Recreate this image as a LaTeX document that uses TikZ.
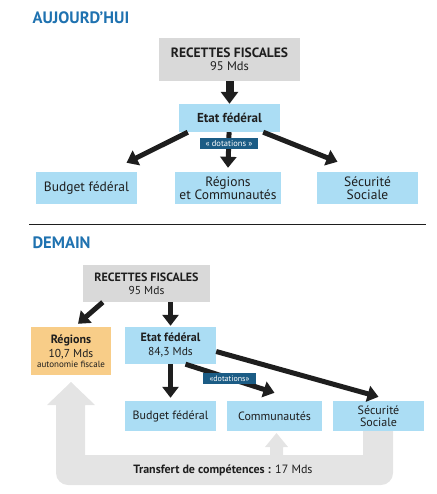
\documentclass[tikz,border=0pt]{standalone}
\usepackage{fontspec}
\setmainfont{PT Sans}
\usetikzlibrary{arrows.meta, calc}
\definecolor{titleblue}{HTML}{1F72B0}
\definecolor{boxblue}{HTML}{ABDDF4}
\definecolor{boxgray}{HTML}{D9D9D9}
\definecolor{boxorange}{HTML}{F8CD88}
\definecolor{dotblue}{HTML}{1B5C85}
\definecolor{bandgray}{HTML}{E4E4E4}
\definecolor{inkdark}{HTML}{1E1E1E}
\newcommand{\fs}[1]{\fontsize{#1}{#1}\selectfont}

\begin{document}
\begin{tikzpicture}[x=1pt, y=-1pt,
    box/.style={fill=boxblue, inner sep=0pt, align=center, text=inkdark},
    flow/.style={draw=inkdark, line width=5pt, -{Triangle[width=16pt, length=11pt]}},
    bigflow/.style={draw=inkdark, line width=8pt, -{Triangle[width=17pt, length=12pt]}},
    tag/.style={fill=dotblue, text=white, inner sep=0pt, minimum height=11pt, font=\fs{8.5}},
    title/.style={anchor=base west, text=titleblue, font=\bfseries\fs{16.5}}]

\useasboundingbox (0,0) rectangle (436,494);

% --- aujourd'hui
\node[title] (today) at (29,24) {AUJOURD’HUI};
\node[box, fill=boxgray, minimum width=141pt, minimum height=43pt] (rec1) at (229.5,59.5)
  {{\bfseries\fs{13.5}RECETTES FISCALES}\\[1pt]{\fs{12.5}95 Mds}};
\node[box, minimum width=101pt, minimum height=28pt, font=\bfseries\fs{13}] (etat1) at (229.5,118) {Etat fédéral};
\node[box, minimum width=101pt, minimum height=32pt, font=\fs{13.5}] (bud1) at (86.5,188) {Budget fédéral};
\node[box, minimum width=106pt, minimum height=32pt, font=\fs{13.5}] (reg1) at (228,188) {Régions\\[0pt]et Communautés};
\node[box, minimum width=101pt, minimum height=32pt, font=\fs{13.5}] (secu1) at (367.5,188) {Sécurité\\[0pt]Sociale};

\draw[bigflow] (rec1) -- (etat1);
\draw[flow] ($(etat1.south west)+(9,0)$) -- ($(bud1.north)+(40,-9)$);
\draw[flow] (etat1) -- ($(reg1.north)+(0,-4)$);
\draw[flow] ($(etat1.south east)+(-17,0)$) -- ($(secu1.north)+(-30,-10)$);
\node[tag, minimum width=58pt] (dot1) at (229,144) {« dotations »};

\draw[draw=inkdark, line width=0.8pt] (29,224) -- (426,224);

% --- demain
\node[title] (tomorrow) at (29,248) {DEMAIN};

\fill[bandgray] (71,382) -- (95,405) -- (85,405) -- (85,455) -- (270,455) -- (270,447)
  -- (265,447) -- (276.5,433) -- (288,447) -- (283,447) -- (283,455) -- (363,455)
  -- (363,431) -- (393,431) -- (393,440) [rounded corners=12pt] -- (393,485) -- (56,485)
  -- (56,440) [sharp corners] -- (56,405) -- (47,405) -- cycle;

\node[box, fill=boxgray, minimum width=127pt, minimum height=37pt] (rec2) at (146.5,283.5)
  {{\bfseries\fs{12}RECETTES FISCALES}\\[1pt]{\fs{11.5}95 Mds}};
\node[box, fill=boxorange, minimum width=80pt, minimum height=48pt] (reg2) at (71,351)
  {{\bfseries\fs{12}Régions}\\[2pt]{\fs{11.5}10,7 Mds}\\[-2pt]{\fs{9}autonomie fiscale}};
\node[box, minimum width=91pt, minimum height=37pt] (etat2) at (170.5,345.5)
  {{\bfseries\fs{12}Etat fédéral}\\[2pt]{\fs{11.5}84,3 Mds}};
\node[box, minimum width=91pt, minimum height=30pt, font=\fs{12}] (bud2) at (170.5,416) {Budget fédéral};
\node[box, minimum width=95pt, minimum height=30pt, font=\fs{12}] (comm2) at (274.5,416) {Communautés};
\node[box, minimum width=91pt, minimum height=30pt, font=\fs{12}] (secu2) at (378.5,416) {Sécurité\\[0pt]Sociale};

\draw[flow] ($(rec2.south west)+(20,0)$) -- ($(reg2.north)+(7,-3)$);
\draw[flow] (rec2.south -| etat2.north) -- ($(etat2.north)+(0,-1)$);
\draw[flow] (etat2) -- ($(bud2.north)+(0,-3)$);
\draw[flow] ($(etat2.south)+(15,0)$) -- ($(comm2.north)+(0,-8)$);
\draw[flow] ($(etat2.east)+(0,6)$) -- ($(secu2.north)+(0,-4)$);
\node[tag, minimum width=53pt, font=\fs{8}] (dot2) at (229.5,378.5) {«dotations»};

\node[anchor=base, text=inkdark, font=\fs{12}] (transfert) at (223,473)
  {\textbf{Transfert de compétences :} 17 Mds};
\end{tikzpicture}
\end{document}
